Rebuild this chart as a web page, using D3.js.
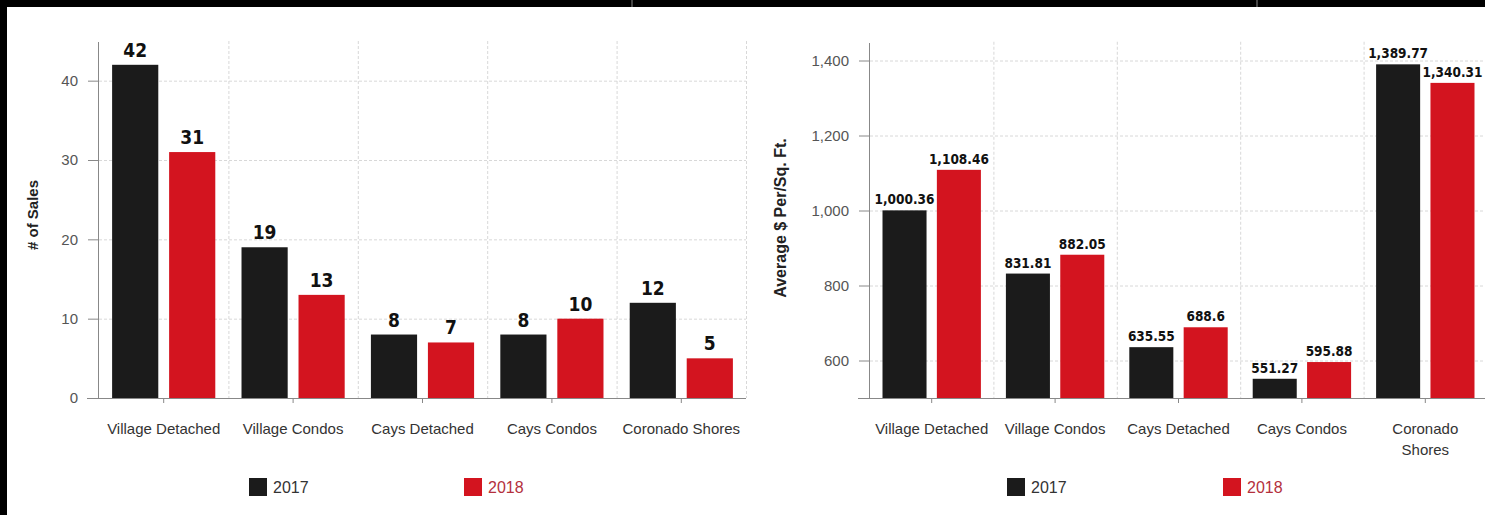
<!DOCTYPE html>
<html><head><meta charset="utf-8">
<script src="https://cdn.jsdelivr.net/npm/d3@7"></script>
<style>
html,body{margin:0;padding:0;background:#fff;}
svg{display:block;}
</style></head>
<body>
<svg id="c" width="1485" height="515"></svg>
<script>
// ---- data ----
const categoriesLeft = ["Village Detached","Village Condos","Cays Detached","Cays Condos","Coronado Shores"];
const categoriesRight = ["Village Detached","Village Condos","Cays Detached","Cays Condos","Coronado|Shores"];
const seriesNames = ["2017","2018"];
const sales2017 = [42,19,8,8,12];
const sales2018 = [31,13,7,10,5];
const ppsf2017 = [1000.36,831.81,635.55,551.27,1389.77];
const ppsf2018 = [1108.46,882.05,688.6,595.88,1340.31];
const salesTicks = [0,10,20,30,40];
const ppsfTicks = [600,800,1000,1200,1400];
const salesLabels = ["42","31","19","13","8","7","8","10","12","5"];
const ppsfLabels2017 = ["1,000.36","831.81","635.55","551.27","1,389.77"];
const ppsfLabels2018 = ["1,108.46","882.05","688.6","595.88","1,340.31"];

const colors = {"2017":"#1b1b1b","2018":"#d3141f"};
const legendTextColors = {"2017":"#333","2018":"#b4303c"};

const svg = d3.select("#c");

// frame
svg.append("rect").attr("x",0).attr("y",0).attr("width",1485).attr("height",7).attr("fill","#000");
svg.append("rect").attr("x",0).attr("y",0).attr("width",7).attr("height",515).attr("fill","#000");
[632,1257].forEach(x=>svg.append("line").attr("x1",x).attr("x2",x).attr("y1",0).attr("y2",7).attr("stroke","#888").attr("stroke-width",1));

function drawChart(o){
  const g = svg.append("g");
  const x = d3.scaleBand().domain(o.cats).range([o.x0,o.x1]).paddingInner(0).paddingOuter(0);
  const xs = d3.scaleBand().domain(seriesNames).range([0,x.bandwidth()]).paddingInner(0.19).paddingOuter(0.23);
  const y = d3.scaleLinear().domain(o.domain).range([o.y0,o.y1]);

  // horizontal grid
  g.append("g").selectAll("line").data(o.ticks.filter(t=>t!==o.domain[0])).join("line")
    .attr("x1",o.x0).attr("x2",o.x1).attr("y1",d=>y(d)+0.5).attr("y2",d=>y(d)+0.5)
    .attr("stroke","#d8d8d8").attr("stroke-dasharray","3,2");
  // vertical grid at band boundaries
  g.append("g").selectAll("line").data(o.cats).join("line")
    .attr("x1",d=>x(d)+x.bandwidth()+0.5).attr("x2",d=>x(d)+x.bandwidth()+0.5)
    .attr("y1",o.y1).attr("y2",o.y0)
    .attr("stroke","#d8d8d8").attr("stroke-dasharray","3,2");

  // bars
  o.series.forEach((vals,si)=>{
    const s = seriesNames[si];
    g.append("g").selectAll("rect").data(vals).join("rect")
      .attr("x",(d,i)=>x(o.cats[i])+xs(s))
      .attr("width",xs.bandwidth())
      .attr("y",d=>y(d))
      .attr("height",d=>y(o.domain[0])-y(d))
      .attr("fill",colors[s]);
    g.append("g").selectAll("text").data(vals).join("text")
      .attr("x",(d,i)=>x(o.cats[i])+xs(s)+xs.bandwidth()/2)
      .attr("y",d=>y(d)-o.labelGap)
      .attr("text-anchor","middle")
      .attr("font-family","'DejaVu Sans Condensed','DejaVu Sans',sans-serif")
      .attr("font-stretch","condensed")
      .attr("font-weight","bold")
      .attr("font-size",o.labelSize)
      .attr("fill","#111")
      .text((d,i)=>o.labels[si][i]);
  });

  // y axis
  const ya = d3.axisLeft(y).tickValues(o.ticks).tickSize(11).tickPadding(10).tickFormat(d3.format(","));
  const yg = g.append("g").attr("transform",`translate(${o.x0},0)`).call(ya);
  yg.select(".domain").attr("stroke","#888").attr("d",`M-0.5,${o.y0}V${o.yTop}`);
  yg.selectAll(".tick line").attr("stroke","#888");
  yg.selectAll(".tick text").attr("font-family","'Liberation Sans',Arial,sans-serif").attr("font-size",o.tickSize).attr("fill","#555");

  // x axis
  const xa = d3.axisBottom(x).tickSize(5).tickPadding(0).tickFormat("");
  const xg = g.append("g").attr("transform",`translate(0,${o.y0})`).call(xa);
  xg.select(".domain").attr("stroke","#888").attr("d",`M${o.x0-12},0.5H${o.x1}`);
  xg.selectAll(".tick line").attr("stroke","#888");
  // category labels
  o.cats.forEach(c=>{
    const lines = c.split("|");
    const t = g.append("text").attr("text-anchor","middle")
      .attr("font-family","'Liberation Sans',Arial,sans-serif").attr("font-size",15).attr("fill","#333");
    lines.forEach((ln,i)=>t.append("tspan").attr("x",x(c)+x.bandwidth()/2).attr("y",o.y0+36+i*21).text(ln));
  });

  // y title
  g.append("text").attr("transform",`translate(${o.titleX},${o.titleY}) rotate(-90)`)
    .attr("text-anchor","middle").attr("font-family","'Liberation Sans',Arial,sans-serif")
    .attr("font-weight","bold").attr("font-size",o.titleSize).attr("fill","#222").text(o.title);

  // legend
  seriesNames.forEach((s,i)=>{
    const lx = o.legendX[i];
    g.append("rect").attr("x",lx).attr("y",478).attr("width",18).attr("height",18).attr("fill",colors[s]);
    g.append("text").attr("x",lx+24).attr("y",493).attr("font-family","'Liberation Sans',Arial,sans-serif")
      .attr("font-size",16).attr("fill",legendTextColors[s]).text(s);
  });
}

drawChart({
  cats:categoriesLeft, series:[sales2017,sales2018],
  labels:[sales2017.map(String),sales2018.map(String)],
  x0:99,x1:746,y0:398,y1:41,yTop:42,domain:[0,45],ticks:salesTicks,
  labelGap:8,labelSize:19,tickSize:15,
  title:"# of Sales",titleX:38,titleY:215,titleSize:15,
  legendX:[249,464]
});
drawChart({
  cats:categoriesRight, series:[ppsf2017,ppsf2018],
  labels:[ppsfLabels2017,ppsfLabels2018],
  x0:870,x1:1487,y0:398,y1:41.75,yTop:43,domain:[500,1450],ticks:ppsfTicks,
  labelGap:6,labelSize:13.5,tickSize:15,
  title:"Average $ Per/Sq. Ft.",titleX:786,titleY:218,titleSize:16,
  legendX:[1007,1223]
});
</script>
</body></html>
